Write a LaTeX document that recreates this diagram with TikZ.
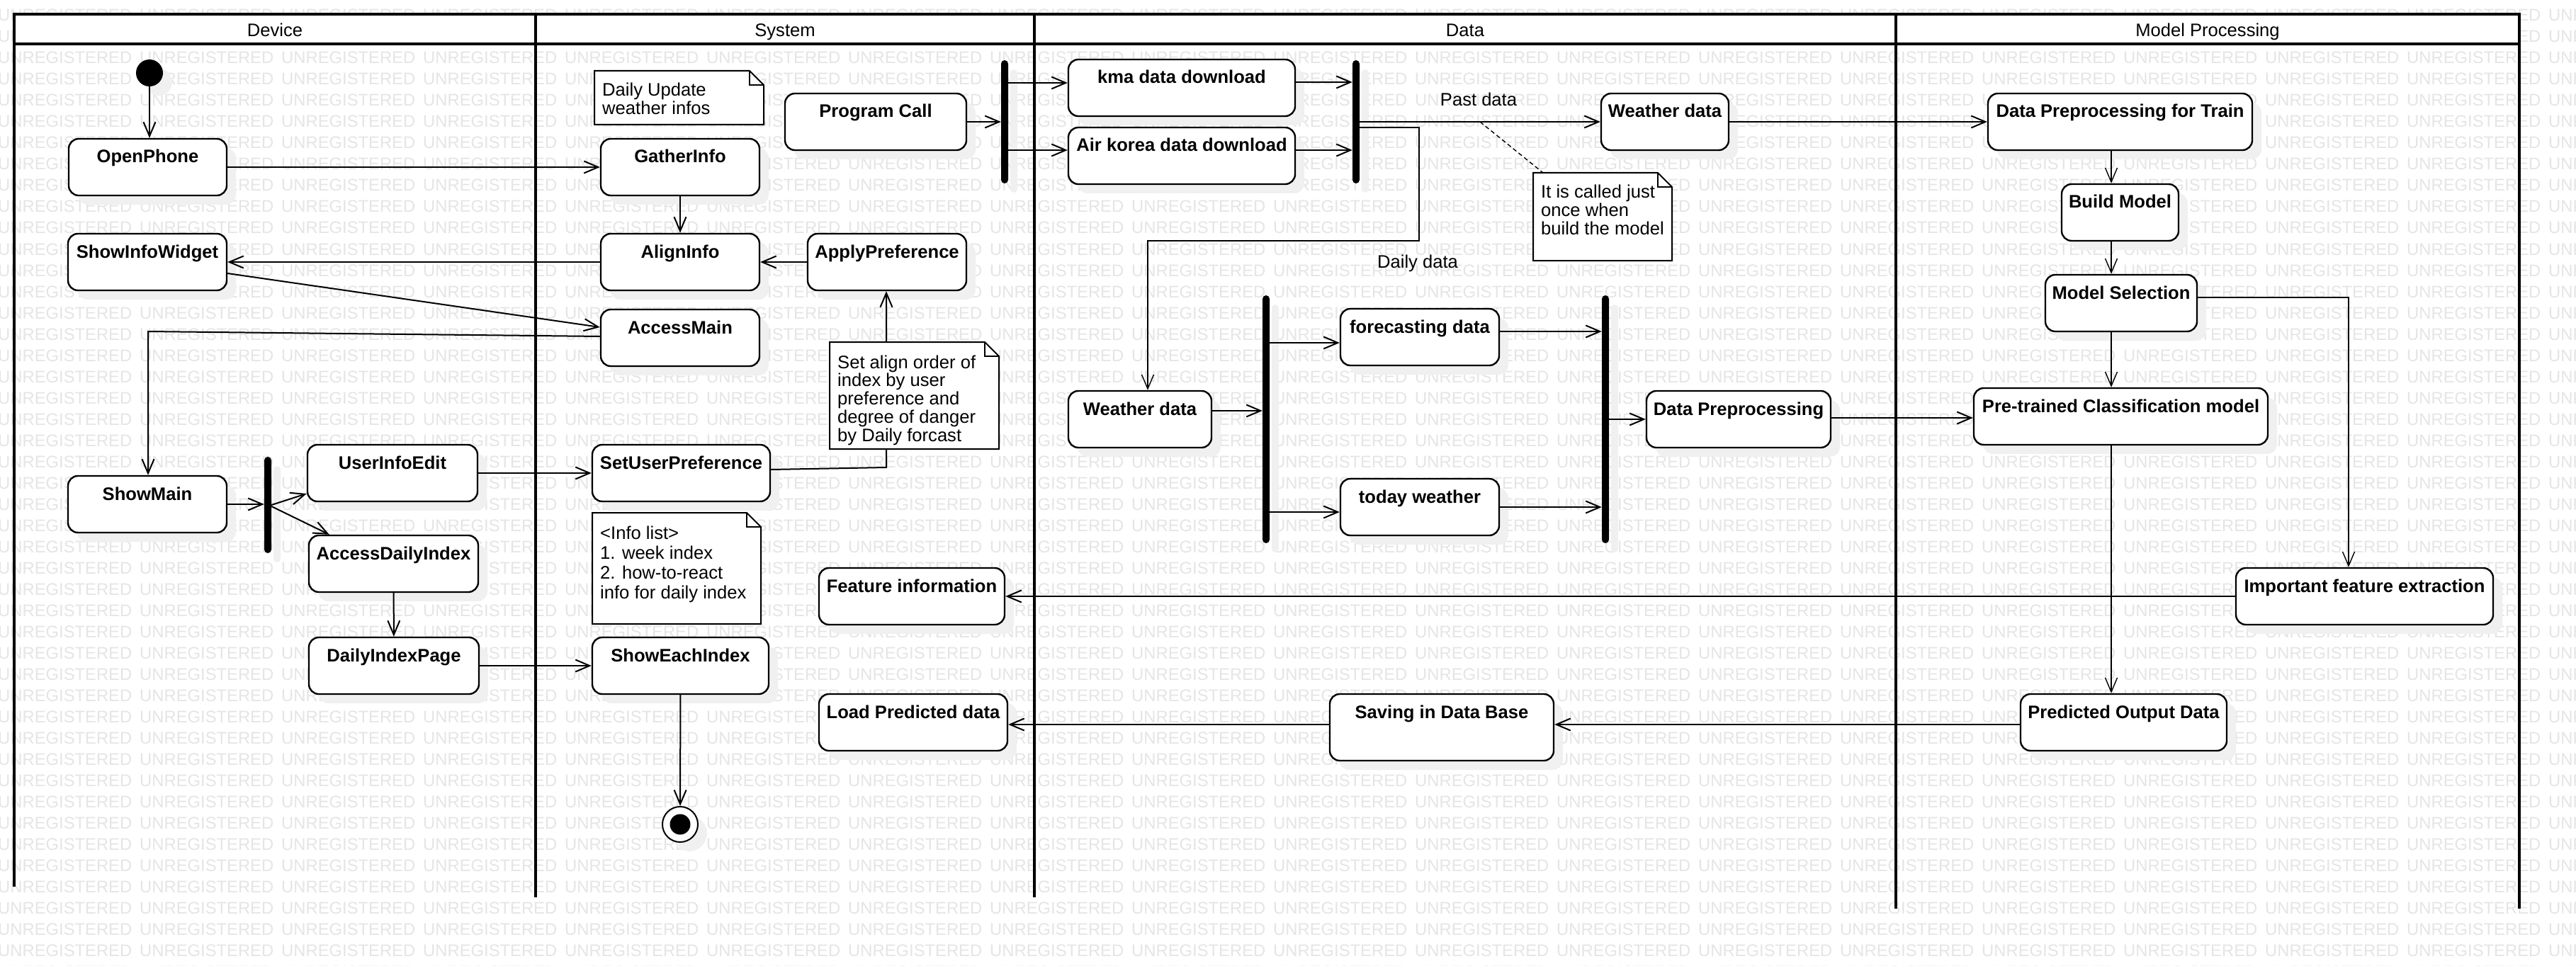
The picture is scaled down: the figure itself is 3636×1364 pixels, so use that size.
\documentclass[tikz,border=0pt]{standalone}
\usepackage{fontspec}
\setmainfont{Liberation Sans}
\usetikzlibrary{arrows.meta,calc,shadows}

\newcommand\umlplain{\fontsize{25.6}{26}\selectfont}
\newcommand\umlbold{\fontsize{25.6}{26}\selectfont\bfseries}
\newcommand\umlnote{\fontsize{25.6}{25.8}\selectfont}
\newcommand\umlnotewide{\fontsize{25.6}{28}\selectfont}
\newcommand\umlmark{\fontsize{23.8}{24}\selectfont}

% outline of a UML note with a folded top-right corner
\newcommand\foldnote[1]{%
  \draw[line width=2pt, fill=white, line join=miter]
    (#1.north west) -- ($(#1.north east)+(-20,0)$) -- ($(#1.north east)+(0,20)$)
    -- (#1.south east) -- (#1.south west) -- cycle;
  \draw[line width=2pt]
    ($(#1.north east)+(-20,0)$) -- ($(#1.north east)+(-20,20)$) -- ($(#1.north east)+(0,20)$);
}

\begin{document}
\begin{tikzpicture}[x=1pt, y=-1pt,
  umlshadow/.style={drop shadow={shadow xshift=13pt, shadow yshift=-13pt, fill=black!6, draw=none, opacity=1}},
  act/.style={draw, line width=2.4pt, rounded corners=14pt, fill=white,
    text height=34pt, text depth=46pt, inner xsep=0pt, inner ysep=0pt,
    font=\umlbold, umlshadow},
  forkbar/.style={fill=black, rounded corners=5pt, minimum width=10pt, inner sep=0pt, umlshadow},
  flow/.style={line width=2pt, -{Straight Barb[length=20pt,width=17pt]}},
  thinflow/.style={flow, line width=1.4pt},
  notelink/.style={line width=1.4pt, dash pattern=on 6pt off 4pt},
  notebox/.style={inner sep=0pt, outer sep=0pt, anchor=north west},
  notetext/.style={anchor=base west, inner sep=0pt, font=\umlnote},
  plainlabel/.style={anchor=base, inner sep=0pt, font=\umlplain},
  lane/.style={line width=3.5pt},
  wmtext/.style={inner sep=0pt, anchor=base west, text=black!10, font=\umlmark}
]
\useasboundingbox (0,0) rectangle (3636,1364);
\fill[white] (0,0) rectangle (3636,1364);

% background stamp text
\foreach \r in {0,...,45}{
  \foreach \c in {0,...,18}{
    \node[wmtext] (wm-\r-\c) at ({\c*200-3},{30+\r*30}) {UNREGISTERED};
  }
}

% swimlanes
\draw[lane, fill=white] (20,20) rectangle (3556,62);
\draw[lane] (20,20) -- (20,1252);
\draw[lane] (756,20) -- (756,1267);
\draw[lane] (1460,20) -- (1460,1267);
\draw[lane] (2676,20) -- (2676,1283);
\draw[lane] (3556,20) -- (3556,1283);
\node[plainlabel] (laneDevice) at (388,52) {Device};
\node[plainlabel] (laneSystem) at (1108,52) {System};
\node[plainlabel] (laneData) at (2068,52) {Data};
\node[plainlabel] (laneModel) at (3116,52) {Model Processing};

% Device lane
\node[circle, fill=black, minimum size=38pt, inner sep=0pt, umlshadow] (start) at (211,103) {};
\node[act, minimum width=223pt] (openphone) at (208.5,236) {OpenPhone};
\node[act, minimum width=224pt] (showinfo) at (208,370) {ShowInfoWidget};
\node[act, minimum width=224pt] (showmain) at (208,712) {ShowMain};
\node[forkbar, minimum height=136pt] (fork2) at (378,713) {};
\node[act, minimum width=240pt] (userinfo) at (554,668) {UserInfoEdit};
\node[act, minimum width=239pt] (accessdaily) at (555.5,796) {AccessDailyIndex};
\node[act, minimum width=240pt] (dailypage) at (556,940) {DailyIndexPage};

% System lane
\node[act, minimum width=224pt] (gather) at (960,236) {GatherInfo};
\node[act, minimum width=224pt] (align) at (960,370) {AlignInfo};
\node[act, minimum width=224pt] (accessmain) at (960,477) {AccessMain};
\node[act, minimum width=224pt] (applypref) at (1252,370) {ApplyPreference};
\node[act, minimum width=256pt] (programcall) at (1236,172) {Program Call};
\node[forkbar, minimum height=174pt] (fork1) at (1418,172) {};
\node[act, minimum width=251pt] (setpref) at (961.5,668) {SetUserPreference};
\node[act, minimum width=249pt] (showeach) at (960.5,940) {ShowEachIndex};
\node[act, minimum width=262pt] (featureinfo) at (1287,842) {Feature information};
\node[act, minimum width=266pt] (loadpred) at (1289,1020) {Load Predicted data};
\node[circle, draw, line width=2pt, fill=white, minimum size=50pt, inner sep=0pt, umlshadow] (finish) at (960,1164) {};
\node[circle, fill=black, minimum size=29pt, inner sep=0pt] (finishdot) at (finish.center) {};

% Data lane
\node[act, minimum width=320pt] (kma) at (1668,124) {kma data download};
\node[act, minimum width=320pt] (airkorea) at (1668,220) {Air korea data download};
\node[forkbar, minimum height=174pt] (fork3) at (1914,172) {};
\node[act, minimum width=180pt] (weatherpast) at (2350,172) {Weather data};
\node[act, minimum width=202pt] (weatherdaily) at (1609,592) {Weather data};
\node[forkbar, minimum height=350pt] (fork4) at (1787,592) {};
\node[act, minimum width=224pt] (forecast) at (2004,476) {forecasting data};
\node[act, minimum width=224pt] (today) at (2004,716) {today weather};
\node[forkbar, minimum height=350pt] (fork5) at (2266,592) {};
\node[act, minimum width=260pt] (datapre) at (2454,592) {Data Preprocessing};
\node[act, minimum width=316pt, text depth=60pt] (saving) at (2035,1027) {Saving in Data Base};

% Model Processing lane
\node[act, minimum width=373pt] (dptrain) at (2992.5,172) {Data Preprocessing for Train};
\node[act, minimum width=165pt] (buildmodel) at (2992.5,300) {Build Model};
\node[act, minimum width=214pt] (modelsel) at (2994,428) {Model Selection};
\node[act, minimum width=415pt] (pretrained) at (2993.5,588) {Pre-trained Classification model};
\node[act, minimum width=363pt] (important) at (3337.5,842) {Important feature extraction};
\node[act, minimum width=291pt] (predicted) at (2997.5,1020) {Predicted Output Data};

% note frames (outlines drawn after the flows)
\node[notebox, minimum width=239pt, minimum height=76pt] (noteupdate) at (839,100) {};
\node[notebox, minimum width=239pt, minimum height=151pt] (notealign) at (1171,483) {};
\node[notebox, minimum width=238pt, minimum height=157pt] (noteinfo) at (836,724) {};
\node[notebox, minimum width=196pt, minimum height=124pt] (noteonce) at (2164,244) {};

% bend points
\coordinate (mainbend) at (209,468);
\coordinate (prefbend) at (1251,660);
\coordinate (dailyA) at (2003,180);
\coordinate (dailyB) at (1620,340);
\coordinate (spine) at (2980,0);
\coordinate (featbend) at (3315,420);
\coordinate (pastmid) at (2089,172);

% flows: Device / System
\draw[flow] (start) -- (start |- openphone.north);
\draw[flow] (openphone) -- (gather);
\draw[flow] (gather) -- (align);
\draw[flow] (applypref) -- (align);
\draw[flow] (align) -- (showinfo);
\draw[flow] ($(showinfo.east)+(0,16)$) -- ($(accessmain.west)+(0,-15)$);
\draw[flow] ($(accessmain.west)+(0,-2)$) -- (mainbend) -- (mainbend |- showmain.north);
\draw[flow] (showmain.east) -- (showmain.east -| fork2.west);
\draw[flow] (fork2.east) -- ($(userinfo.west)+(0,29)$);
\draw[flow] ($(fork2.east)+(0,2)$) -- ($(accessdaily.north west)+(30,0)$);
\draw[flow] (userinfo) -- (setpref);
\draw[flow] (accessdaily) -- (dailypage);
\draw[flow] (dailypage) -- (showeach);
\draw[flow] (showeach) -- (finish);
\draw[flow] ($(setpref.east)+(0,-5)$) -- (prefbend) -- (prefbend |- applypref.south);
\draw[flow] (programcall) -- (programcall -| fork1.west);
\draw[flow] ($(fork1.east)+(0,-55)$) -- ($(kma.west)+(0,-7)$);
\draw[flow] ($(fork1.east)+(0,40)$) -- ($(airkorea.west)+(0,-8)$);

% flows: Data
\draw[flow] ($(kma.east)+(0,-8)$) -- ($(fork3.west)+(0,-56)$);
\draw[flow] ($(airkorea.east)+(0,-8)$) -- ($(fork3.west)+(0,40)$);
\draw[flow] (fork3.east) -- (weatherpast.west);
\draw[thinflow] ($(fork3.east)+(0,8)$) -- (dailyA) -- (dailyA |- dailyB) -- (dailyB) -- (dailyB |- weatherdaily.north);
\draw[flow] ($(weatherdaily.east)+(0,-12)$) -- ($(fork4.west)+(0,-12)$);
\draw[flow] ($(fork4.east)+(0,-108)$) -- ($(forecast.west)+(0,8)$);
\draw[flow] ($(fork4.east)+(0,131)$) -- ($(today.west)+(0,7)$);
\draw[flow] ($(forecast.east)+(0,-8)$) -- ($(fork5.west)+(0,-124)$);
\draw[flow] (today.east) -- (today.east -| fork5.west);
\draw[flow] (fork5.east) -- (datapre.west);
\draw[flow] ($(datapre.east)+(0,-2)$) -- ($(pretrained.west)+(0,2)$);
\draw[flow] (weatherpast) -- (dptrain);
\draw[notelink] (pastmid) -- ($(noteonce.north west)+(14,0)$);

% flows: Model Processing
\draw[thinflow] (spine |- dptrain.south) -- (spine |- buildmodel.north);
\draw[thinflow] (spine |- buildmodel.south) -- (spine |- modelsel.north);
\draw[thinflow] (spine |- modelsel.south) -- (spine |- pretrained.north);
\draw[thinflow] (spine |- pretrained.south) -- (spine |- predicted.north);
\draw[thinflow] ($(modelsel.east)+(0,-8)$) -- (featbend) -- (featbend |- important.north);
\draw[flow] (important) -- (featureinfo);
\draw[flow] ($(predicted.west)+(0,3)$) -- ($(saving.east)+(0,-4)$);
\draw[flow] ($(saving.west)+(0,-4)$) -- ($(loadpred.east)+(0,3)$);

% flow labels
\node[plainlabel] (pastlabel) at (2087,150) {Past data};
\node[plainlabel] (dailylabel) at (2001,378) {Daily data};

% notes
\foldnote{noteupdate}
\foldnote{notealign}
\foldnote{noteinfo}
\foldnote{noteonce}
\node[notetext] (noteupdatetext) at ($(noteupdate.north west)+(11,36)$)
  {\vtop{\hbox{Daily Update}\hbox{weather infos}}};
\node[notetext] (notealigntext) at ($(notealign.north west)+(11,37)$)
  {\vtop{\hbox{Set align order of}\hbox{index by user}\hbox{preference and}\hbox{degree of danger}\hbox{by Daily forcast}}};
\node[notetext, font=\umlnotewide] (noteinfotext) at ($(noteinfo.north west)+(11,37)$)
  {\vtop{\hbox{<Info list>}\hbox{1. week index}\hbox{2. how-to-react}\hbox{info for daily index}}};
\node[notetext] (noteoncetext) at ($(noteonce.north west)+(11,36)$)
  {\vtop{\hbox{It is called just}\hbox{once when}\hbox{build the model}}};
\end{tikzpicture}
\end{document}
